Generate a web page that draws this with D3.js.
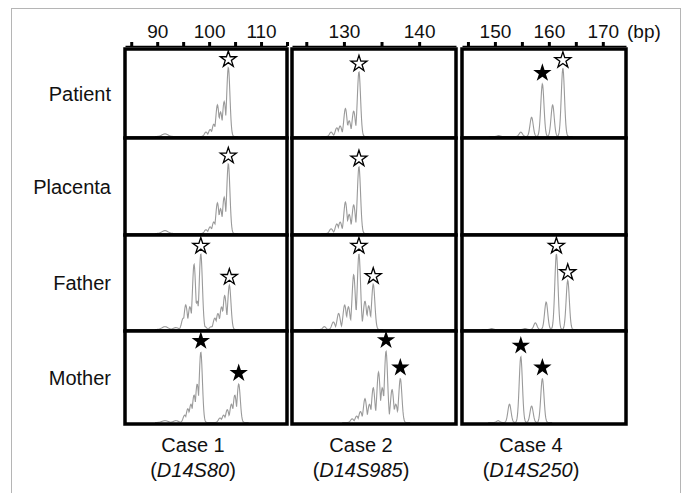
<!DOCTYPE html>
<html>
<head>
<meta charset="utf-8">
<script src="https://cdn.jsdelivr.net/npm/d3@7"></script>
<style>
  html, body { margin: 0; padding: 0; background: #fff; }
  svg text { font-family: "Liberation Sans", Arial, sans-serif; fill: #111; }
</style>
</head>
<body>
<div id="chart"></div>
<script>
// rows and columns of the figure
const rows = ['Patient', 'Placenta', 'Father', 'Mother'];
const cases = ['Case 1', 'Case 2', 'Case 4'];
const markers = ['D14S80', 'D14S985', 'D14S250'];

// size axis (bp) per column
const bpDomains = [[83.8, 115], [123.1, 144.9], [143.9, 174.3]];
const bpTicks = [
  [85, 90, 95, 100, 105, 110, 115],
  [125, 130, 135, 140],
  [145, 150, 155, 160, 165, 170]
];

// peaks: [size in bp, relative height, star ('o' open / 'f' filled), width]
const case1 = [
  [[91.5, 0.03, null, 3], [99.4, 0.05], [100.2, 0.08], [100.9, 0.14], [101.6, 0.36], [102.2, 0.28], [102.9, 0.40], [103.7, 0.79, 'o']],
  [[91.5, 0.03, null, 3], [99.4, 0.04], [100.2, 0.07], [100.9, 0.12], [101.6, 0.32], [102.2, 0.26], [102.9, 0.38], [103.7, 0.73, 'o']],
  [[91.5, 0.03, null, 3], [93.6, 0.02, null, 2.5], [95.0, 0.12], [95.5, 0.26], [96.3, 0.24], [97.1, 0.69], [97.7, 0.30], [98.4, 0.80, 'o'], [99.2, 0.03],
   [100.4, 0.03], [101.1, 0.12], [101.7, 0.17], [102.4, 0.24], [103.0, 0.36], [103.9, 0.47, 'o']],
  [[91.5, 0.02, null, 3], [93.6, 0.02, null, 2.5], [95.3, 0.08], [95.9, 0.15], [96.5, 0.20], [97.1, 0.30], [97.7, 0.42], [98.4, 0.77, 'f'],
   [102.1, 0.05], [102.8, 0.08], [103.5, 0.14], [104.3, 0.20], [104.95, 0.30], [105.7, 0.42, 'f']]
];
const case2 = [
  [[128.3, 0.05], [129.06, 0.10], [129.5, 0.12], [130.2, 0.32], [130.7, 0.18], [131.3, 0.29], [132.0, 0.74, 'o']],
  [[128.3, 0.05], [129.06, 0.10], [129.5, 0.12], [130.2, 0.33], [130.7, 0.20], [131.3, 0.30], [132.0, 0.70, 'o']],
  [[127.4, 0.03], [128.6, 0.08], [129.3, 0.17], [130.1, 0.26], [130.6, 0.24], [131.3, 0.58], [132.0, 0.80, 'o'],
   [132.8, 0.30], [133.3, 0.25], [133.9, 0.48, 'o']],
  [[131.1, 0.04], [131.7, 0.07], [132.2, 0.12], [132.8, 0.26], [133.4, 0.20], [133.9, 0.38], [134.6, 0.55], [135.1, 0.38],
   [135.6, 0.78, 'f'], [136.4, 0.36], [136.9, 0.20], [137.5, 0.48, 'f']]
];
const case4 = [
  [[150.7, 0.01], [154.8, 0.05], [156.8, 0.22], [158.8, 0.60, 'f'], [160.7, 0.36], [162.6, 0.78, 'o']],
  [],
  [[149.4, 0.01], [155.6, 0.01], [157.5, 0.07], [159.5, 0.29], [161.4, 0.80, 'o'], [163.5, 0.52, 'o']],
  [[150.6, 0.02], [152.7, 0.20], [154.8, 0.72, 'f'], [156.8, 0.18], [158.8, 0.48, 'f']]
];
const peakData = [case1, case2, case4];

const width = 685, height = 493;
const colX = [[125, 287], [292, 456], [462, 626]];
const rowY = [49, 138, 235, 331, 424];
const axisY = 46;
const peakSigma = 1.6;

const svg = d3.select('#chart').append('svg')
  .attr('width', width)
  .attr('height', height);

// thin outer frame
svg.append('rect')
  .attr('x', 11.5).attr('y', 8.5)
  .attr('width', 669).attr('height', 520)
  .attr('fill', 'none')
  .attr('stroke', '#b5b5b5')
  .attr('stroke-width', 1);

const star = d3.symbol().type(d3.symbolStar);
const defs = svg.append('defs');

cases.forEach((c, ci) => {
  const [x0, x1] = colX[ci];
  const x = d3.scaleLinear().domain(bpDomains[ci]).range([x0, x1]);

  // top size axis
  const axis = d3.axisTop(x)
    .tickValues(bpTicks[ci])
    .tickSizeInner(4)
    .tickSizeOuter(0)
    .tickPadding(4)
    .tickFormat(d => d % 10 === 0 ? d : '');
  const ag = svg.append('g')
    .attr('transform', `translate(0,${axisY})`)
    .call(axis);
  ag.select('.domain').attr('stroke', '#000').attr('stroke-width', 1.5);
  ag.selectAll('.tick line').attr('stroke', '#000').attr('stroke-width', 3);
  ag.selectAll('.tick text')
    .style('font-size', '19px')
    .attr('fill', '#111');

  rows.forEach((r, ri) => {
    const top = rowY[ri], bottom = rowY[ri + 1];
    const y = d3.scaleLinear().domain([0, 1]).range([bottom - 1.5, top]);
    const peaks = peakData[ci][ri];
    const clipId = `clip-${ci}-${ri}`;

    defs.append('clipPath').attr('id', clipId)
      .append('rect')
      .attr('x', x0).attr('y', top)
      .attr('width', x1 - x0).attr('height', bottom - top);

    svg.append('rect')
      .attr('x', x0).attr('y', top)
      .attr('width', x1 - x0).attr('height', bottom - top)
      .attr('fill', '#fff');

    if (peaks.length) {
      // electropherogram trace built from the peak list
      const px = peaks.map(p => x(p[0]));
      const lo = d3.min(px) - 10, hi = d3.max(px) + 10;
      const pts = d3.range(lo, hi, 0.4).map(sx => {
        const v = d3.max(peaks, p => {
          const s = p[3] || peakSigma;
          const dx = sx - x(p[0]);
          return p[1] * Math.exp(-dx * dx / (2 * s * s));
        });
        return [sx, y(v)];
      });
      svg.append('path')
        .attr('clip-path', `url(#${clipId})`)
        .attr('d', d3.line()(pts))
        .attr('fill', 'none')
        .attr('stroke', '#9a9a9a')
        .attr('stroke-width', 1.1);
    }

    svg.append('rect')
      .attr('x', x0).attr('y', top)
      .attr('width', x1 - x0).attr('height', bottom - top)
      .attr('fill', 'none')
      .attr('stroke', '#000')
      .attr('stroke-width', 3.5);

    // allele stars
    svg.append('g').selectAll('path')
      .data(peaks.filter(p => p[2]))
      .join('path')
      .attr('d', p => star.size(p[2] === 'f' ? 105 : 80)())
      .attr('transform', p => `translate(${x(p[0])},${y(p[1]) - (p[2] === 'f' ? 11 : 8)})`)
      .attr('fill', p => p[2] === 'f' ? '#000' : '#fff')
      .attr('stroke', '#000')
      .attr('stroke-width', p => p[2] === 'f' ? 0 : 1.3);
  });

  // case labels under each column
  const cx = (x0 + x1) / 2 - 13;
  svg.append('text')
    .attr('x', cx).attr('y', 452)
    .attr('text-anchor', 'middle')
    .style('font-size', '20px')
    .text(c);
  const t2 = svg.append('text')
    .attr('x', cx).attr('y', 477)
    .attr('text-anchor', 'middle')
    .style('font-size', '20px');
  t2.append('tspan').text('(');
  t2.append('tspan').style('font-style', 'italic').text(markers[ci]);
  t2.append('tspan').text(')');
});

svg.append('text')
  .attr('x', 627).attr('y', 38)
  .style('font-size', '19px')
  .text('(bp)');

// row labels
svg.append('g').selectAll('text')
  .data(rows)
  .join('text')
  .attr('x', 111)
  .attr('y', (d, i) => (rowY[i] + rowY[i + 1]) / 2 + 7)
  .attr('text-anchor', 'end')
  .style('font-size', '20px')
  .text(d => d);
</script>
</body>
</html>
